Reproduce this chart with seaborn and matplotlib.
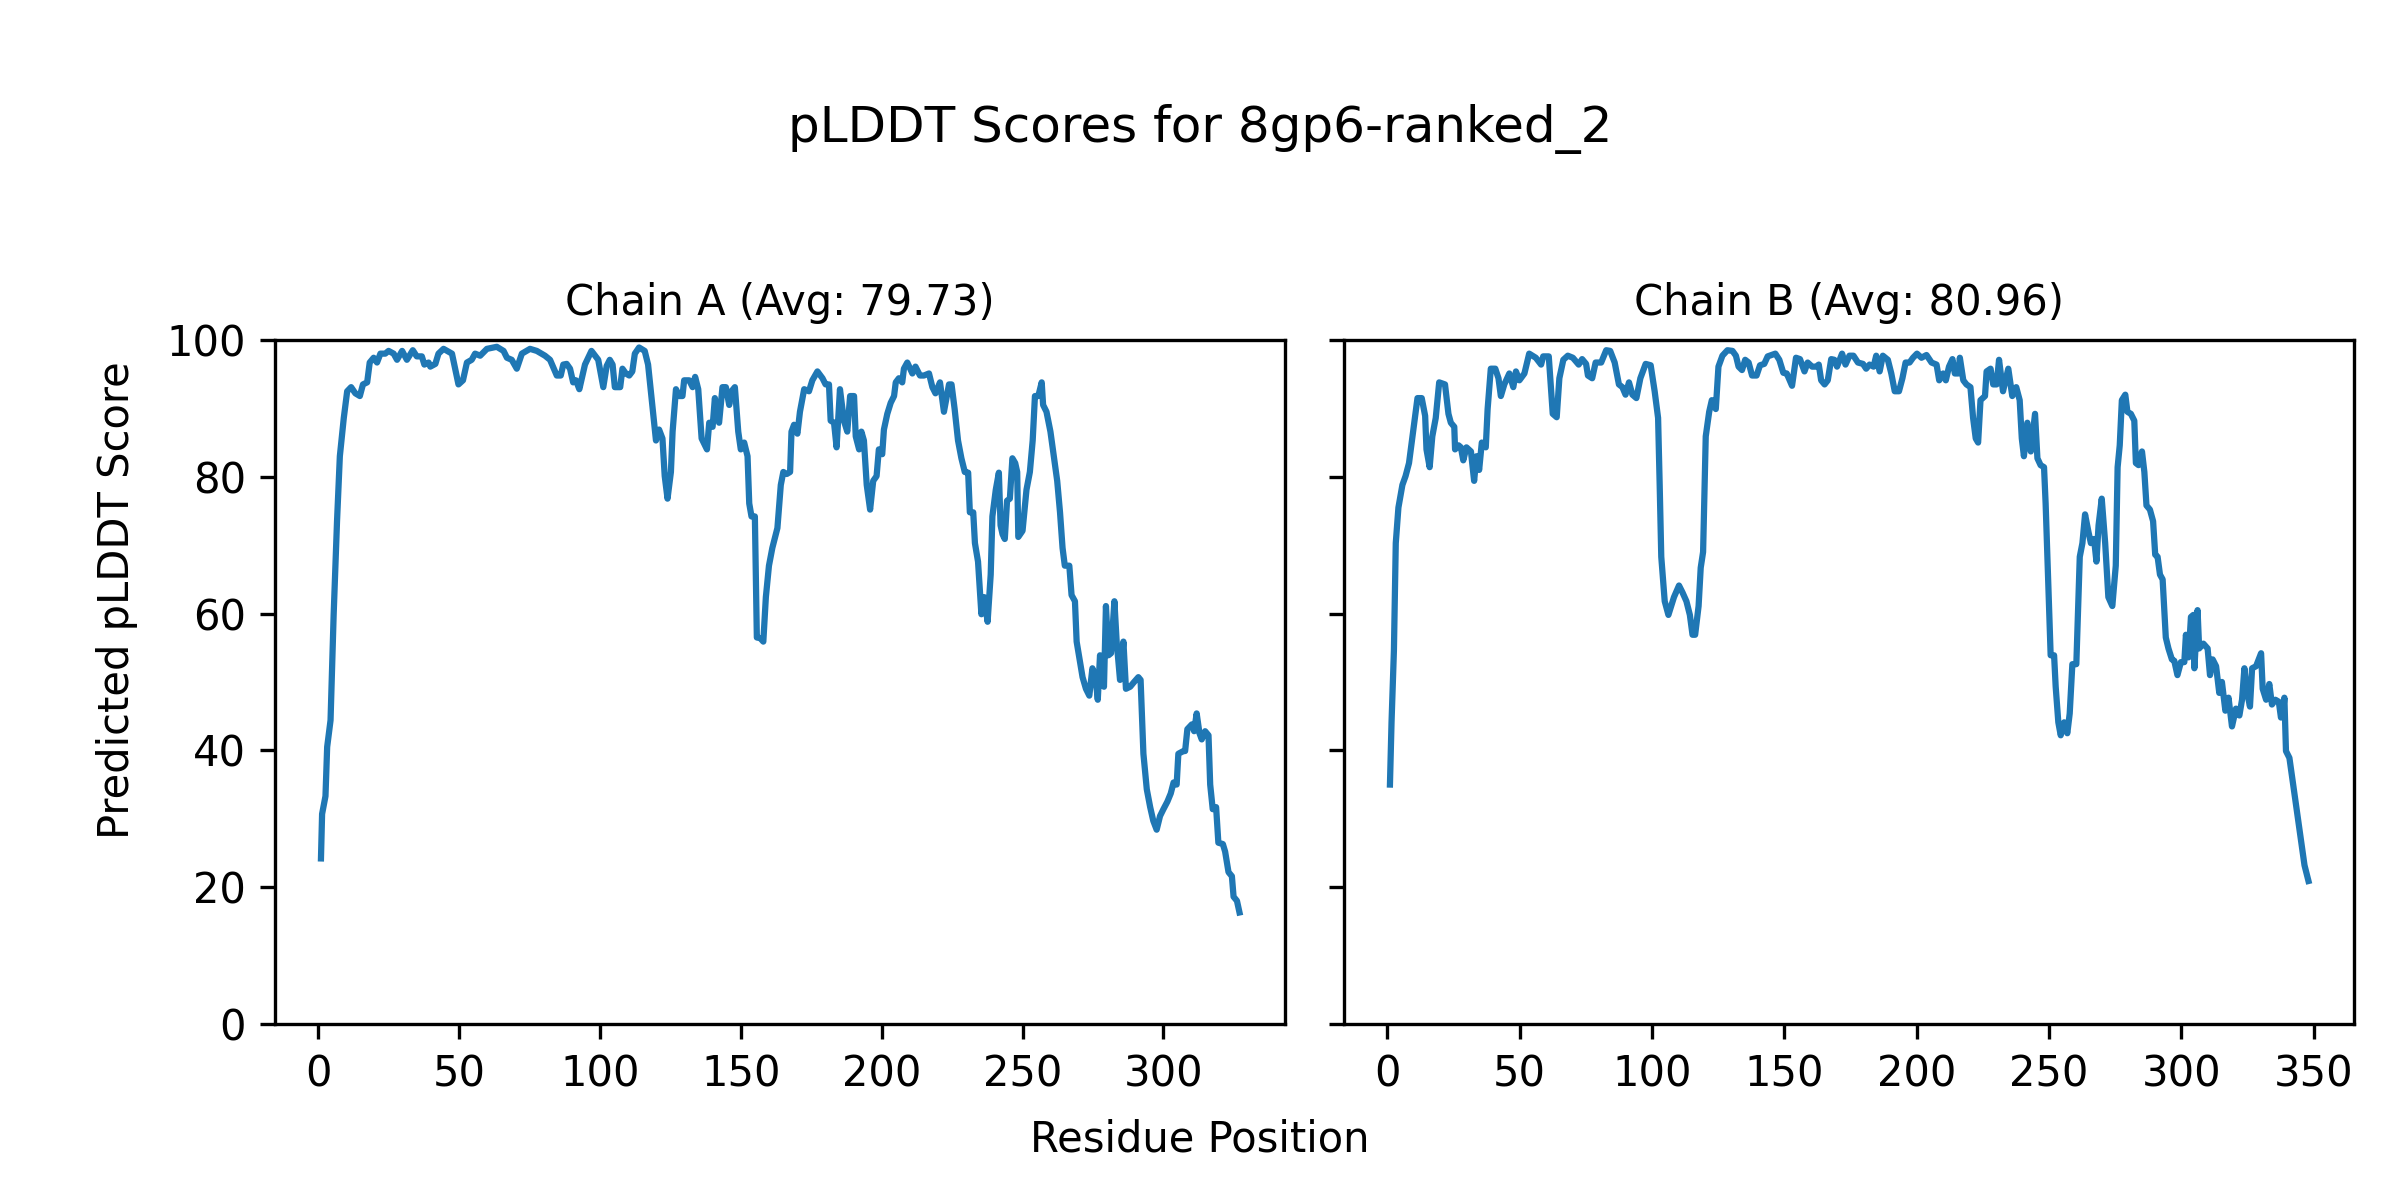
import matplotlib
matplotlib.use("Agg")
import matplotlib.pyplot as plt
import seaborn as sns
import pandas as pd

# ---------------- data ----------------
chain_a_res = [1, 1.4, 2.6, 3.2, 4.4, 5.5, 6.7, 7.7, 9.1, 10.3, 11.7, 13.2, 14.8, 15.9, 17.4, 18.3,
               19.7, 20.9, 22.1, 23.8, 25, 26.8, 28, 29.8, 31.5, 33.6, 35, 36.8, 37.7, 39.2, 39.8,
               41.6, 42.7, 44.5, 47.5, 49.8, 51.4, 52.8, 54.5, 55.7, 57.5, 59.9, 63.4, 65.8, 67,
               68.7, 70.5, 72.3, 75.2, 77.6, 80.5, 82.3, 84.7, 86.1, 87, 88.2, 89.4, 90.5, 91.5,
               92.7, 94.7, 97, 99.4, 101.2, 102.4, 103.5, 104.5, 105.3, 106.2,
               107.2, 108, 109.2, 110.4, 111.5, 112.4, 113.9, 115.9, 117.1, 118.6, 119.9, 121,
               122.2, 123, 124, 125.2, 125.8, 127, 128.1, 129.3, 129.9, 131.7, 132.9, 133.8, 134.9,
               136.1, 138, 138.8, 140, 140.8, 142.3, 143.5, 144.7, 145.9, 146.7, 147.9, 149.1, 150,
               151.2, 152.4, 153, 153.8, 155, 155.7, 156.9, 158, 158.9, 160, 161.2, 163, 164.2,
               165.1, 166.3, 167.5, 168, 168.9, 170.1, 171, 172.5, 174.2, 175.4, 177.2, 179, 180.1,
               181.3, 181.9, 183.1, 184, 185.2, 186.6, 187.8, 188.8, 190.2, 190.8, 192, 192.8,
               193.7, 194.7, 195.9, 197, 198.2, 199, 200.2, 200.8, 202, 203.2, 204.4, 205, 206.1,
               207.3, 207.9, 209.1, 210.9, 212, 213.6, 215, 216.8, 218, 219.1, 220.7, 222.1, 223.9,
               224.8, 225.9, 227.1, 228.3, 229.5, 230.7, 231.3, 232.5, 233.1, 234.2, 235.4, 236.4,
               237.6, 238.7, 239.3, 240.5, 241.6, 242.2, 242.9, 243.7, 244.5, 245.5, 246.4, 247.4,
               248.1, 248.5, 250, 251.4, 252.6, 253.6, 254.4, 255.6, 256.8, 257.3, 258.5, 259.9,
               261.1, 262.3, 263.3, 264.2, 265, 266.6, 267.4, 268.6, 269.2, 270.4, 271.3, 272.5,
               273.7, 274.8, 275.9, 276.7, 277.5, 278.9, 279.6, 280.5, 281.4, 282.6, 283.4, 284.6,
               285.8, 286.7, 288.2, 289.6, 291.1, 291.9, 292.9, 294.1, 295.3, 296.4, 297.6, 298.8,
               300, 301.4, 302.6, 303.6, 304.7, 305.3, 307.1, 307.7, 308.5, 310.1, 310.9, 311.8,
               312.8, 313.6, 314.8, 316, 316.6, 317.5, 318.7, 319.5, 321.1, 321.9, 323.1, 324.3,
               324.9, 326.1, 327]
chain_a_score = [24.2, 30.7, 33.3, 40.5, 44.4, 59.8, 73.5, 83, 88.6, 92.5, 93.1, 92.2, 91.8, 93.5,
                 93.8, 96.7, 97.4, 96.7, 98, 98, 98.4, 98, 97.1, 98.4, 97.1, 98.5, 97.6, 97.6, 96.4,
                 96.7, 96.1, 96.5, 98, 98.7, 98, 93.5, 94.1, 96.7, 97.1, 98, 97.7, 98.7, 99, 98.4,
                 97.4, 97.1, 95.8, 98, 98.7, 98.4, 97.7, 97.1, 94.8, 94.8, 96.4, 96.5, 95.8, 93.8,
                 94.1, 92.8, 96.4, 98.4, 97.1, 93.1, 96.2, 97.1, 96.4, 93.1, 93.1,
                 93.1, 95.8, 95.1, 94.8, 95.4, 98, 98.9, 98.4, 96.4, 90.5, 85.3, 86.9, 85.6, 80.1,
                 76.8, 80.7, 86.6, 92.8, 91.8, 91.8, 94.1, 94.1, 93.1, 94.6, 92.8, 85.6, 84, 87.9,
                 87.3, 91.5, 87.9, 93.1, 93.1, 90.5, 92.5, 93.1, 86.6, 84, 85, 83, 76.1, 74.2, 74.2,
                 56.5, 56.4, 55.9, 62.4, 67, 69.6, 72.5, 78.8, 80.7, 80.4, 80.7, 86.6, 87.6, 86.3,
                 89.5, 92.8, 92.5, 94.1, 95.4, 94.4, 93.5, 93.5, 88.2, 87.9, 84.3, 92.8, 88.2, 86.6,
                 91.8, 91.8, 85.9, 84, 86.6, 85.3, 78.8, 75.2, 79.4, 80.1, 84, 83.3, 86.9, 89.2,
                 90.8, 91.8, 93.8, 94.4, 93.8, 95.8, 96.7, 95.1, 96.1, 94.8, 94.8, 95.1, 93.1, 92.2,
                 93.8, 89.5, 93.5,
                 93.5, 89.9, 85.3, 82.7, 80.7, 80.6, 74.8, 74.8, 70.3, 67.6, 59.9, 62.4, 58.8, 65.7,
                 74.2, 78.1, 80.6, 72.9, 71.6, 70.9, 76.5, 76.8, 82.7, 82, 80.7, 71.2, 72.1, 78.1,
                 80.7, 85.3, 91.8, 91.8, 93.8, 90.5, 89.5, 86.6, 83, 79.4, 74.8, 69.6, 67, 67, 62.7,
                 61.8, 55.9, 52.9, 50.7, 49, 48, 52, 50.7, 47.4, 53.9, 49.3, 61.1, 53.9, 54.2, 61.8,
                 55.9, 50.3, 55.9, 49, 49.3, 50, 50.7, 50.3, 39.5, 34.3, 31.7, 29.7, 28.4, 30.4,
                 31.4, 32.5, 33.7, 35.3, 35, 39.5, 39.9, 39.9, 43.1, 43.8, 42.8, 45.4, 42.5, 41.6,
                 42.8, 42.2, 35, 31.4, 31.7, 26.5, 26.3, 25.2, 22.2, 21.6, 18.6, 18, 16.3]

chain_b_res = [1, 1.6, 2.5, 3.2, 4.2, 5.7, 6.9, 8.2, 9.5, 11.4, 13, 14.3, 14.8, 16, 17, 18.3, 19.6,
               21.8, 23.1, 24, 25.3, 25.6, 26.9, 27.8, 28.7, 29.9, 31.6, 32.8, 33.7, 34.7, 35.7,
               37.2, 37.9, 39.1, 40.8, 42, 42.9, 44.2, 46.1, 47.6, 48.6, 49.9, 51.8, 53.6, 56.1,
               58.1, 58.9, 61, 62.5, 64, 65, 66.5, 68.2, 70.1, 72.3, 73.6, 75.1, 75.8, 77.4, 78.7,
               80.8, 82.7, 84.2, 85.9, 87.5, 88.8, 90, 91.3, 92.6, 94.1, 95.6, 97.6, 99.5, 101,
               102.3, 102.9, 103.5, 104.8, 106.2,
               108.3, 110.2, 111.5, 113, 114.3, 115.3, 116.3, 117.6, 118.4, 119.3, 120.3, 121.6,
               122.6, 124.1, 125.1, 126.6, 128.5, 130.4, 131.7, 132.7, 134, 135.2, 136.5, 137.8,
               139.5, 140.8, 142.4, 143.7, 146.6, 148.1, 149.6, 150.9, 152.9, 154.4, 155.9, 157.6,
               158.8, 160.5, 162, 163, 163.9, 165.2, 166.4, 167.7, 168.9, 169.9, 171.8, 173.1,
               174.6, 176.1, 177.8, 179.7, 180.9, 182.2, 183.7, 184.7, 186, 187.2, 189.1, 190.4,
               191.7, 193.3, 194.6, 195.8, 197.3, 198.6, 200.1, 201.8, 203.7, 205.6, 207.5, 208.5,
               210, 211, 212.2, 213.5, 214.4, 215.7, 216.3, 217.6, 218.8, 220.3, 221.3, 222.3,
               223.2, 224.1, 225.8, 226.4, 227.9, 228.9, 230.2,
               231.1, 232.6, 234.6, 236.1, 237.6, 238.9, 239.7, 240.5, 241.8, 243.1, 244.7, 245.6,
               246.8, 248.1, 248.7, 250, 250.6, 251.9, 252.5, 253.5, 254.4, 255.7, 256.9, 257.8,
               258.8, 260.3, 261.1, 261.6, 262.6, 263.6, 264.9, 265.8, 267, 267.9, 268.7, 269.9,
               271.2, 272.4, 273.9, 275.2, 275.9, 276.7, 277.5, 278.8, 279.6, 280.9, 282.2, 282.8,
               283.8, 285.1, 286, 286.8, 288.1, 289.3, 290.1, 291, 291.9, 292.9, 294.1, 295.1,
               296.4, 297.3, 298.5, 299.8, 301.1, 301.7, 302.7, 303.6, 304.5, 304.9, 306.1, 306.7,
               308.3, 309.9, 310.8, 311.8, 313.1, 314.3, 315.3, 316.6, 317.8, 319.1, 320.6, 321.9,
               322.9, 323.8, 324.7, 325.9, 326.7, 328.2, 330.1, 330.7, 332, 333.2, 334.2, 335.5,
               336.8, 337.6, 338.3, 338.9, 339.5, 340.8, 342.7, 344.6, 346.5, 348]
chain_b_score = [35, 44.1, 54.6, 70.3, 75.5, 78.8, 80.1, 82, 85.9, 91.5, 91.5, 88.9, 84, 81.4, 85.9,
                 88.6, 93.8, 93.5, 89.2, 87.9, 87.3, 84, 84.6, 84.3, 82.4, 84.3, 83.7, 79.4, 83, 81,
                 85, 84.3, 89.9, 95.8, 95.8, 94.4, 91.8, 93.5, 95.1, 93.1, 95.4, 94.1, 95.1, 98,
                 97.4, 96.4, 97.6, 97.6, 89.2, 88.7, 94.4, 97.1, 97.7, 97.4, 96.4, 97.2, 96.5, 94.8,
                 94.4, 96.7, 96.7, 98.5, 98.4, 96.7, 93.5, 93.1, 92, 93.8, 92, 91.5, 94.4, 96.5,
                 96.3, 92.5, 88.6, 78.8, 68.3, 61.8, 59.8,
                 62.4, 64.1, 63.1, 61.8, 59.8, 56.9, 56.9, 61.1, 66.7, 69, 85.9, 89.5, 91.2, 89.9,
                 96.1, 97.7, 98.5, 98.4, 97.7, 96.1, 95.6, 97.1, 96.7, 94.8, 94.8, 96.3, 96.5, 97.6,
                 98, 97.1, 95.2, 95.1, 93.3, 97.4, 97.2, 95.4, 96.7, 96.1, 96.1, 96.4, 94.1, 93.5,
                 94.1, 97.2, 97.1, 96.1, 98, 96.4, 97.7, 97.7, 96.7, 96.5, 95.8, 96.4, 96.1, 97.7,
                 95.4, 97.7, 97.1, 95.1, 92.5, 92.5, 94.4, 96.7, 96.7, 97.4, 98, 97.4, 97.8, 96.7,
                 96.4, 94.1, 95.1, 94.1, 96.1, 97.2, 95.1, 95.1, 97.4, 94.1, 93.5, 93.1, 88.6, 85.6,
                 85, 91.2, 91.8, 95.4, 95.8, 93.5, 93.5,
                 97.1, 92.5, 95.8, 91.8, 93.1, 91.2, 85.6, 83, 87.9, 83.7, 89.2, 82.7, 81.7, 81.4,
                 76.1, 61.1, 53.9, 53.9, 49.3, 44.1, 42.2, 44.1, 42.5, 45.4, 52.6, 52.6, 62.4, 68.3,
                 70.3, 74.5, 71.9, 70.3, 70.9, 67.6, 72.9, 76.8, 70.3, 62.4, 61.1, 67, 81.4, 84.6,
                 91.2, 92, 89.5, 89.2, 88.2, 82, 81.7, 83.7, 80.7, 75.8, 75.2, 73.5, 68.6, 68.3,
                 65.7, 65, 56.5, 54.9, 53.3, 53.1, 51, 52.9, 52.9, 56.9, 53.6, 59.5, 59.8, 52, 60.5,
                 54.9, 55.6, 54.9, 51, 53.3, 52.3, 48.4, 50, 45.8, 47.7, 43.5, 46.1, 45.1, 47.4, 52,
                 48.7, 46.4, 52, 52.3, 54.2, 49, 47.4, 49.7, 46.7, 47.4, 47.1, 44.8, 45.1, 47.7,
                 39.9, 38.9, 33.7, 28.4, 23.2, 20.9]

chains = ["A", "B"]
averages = [79.73, 80.96]
suptitle_text = "pLDDT Scores for 8gp6-ranked_2"
x_label = "Residue Position"
y_label = "Predicted pLDDT Score"
y_ticks = [0, 20, 40, 60, 80, 100]

# ---------------- plot ----------------
plt.rcParams["font.family"] = ["DejaVu Sans"]
fig, axes = plt.subplots(1, 2, figsize=(8, 4), dpi=300, sharey=True)
fig.subplots_adjust(left=0.1146, right=0.981, bottom=0.1467, top=0.7167, wspace=0.058)

data = [(chain_a_res, chain_a_score), (chain_b_res, chain_b_score)]
for ax, chain, avg, (xs, ys) in zip(axes, chains, averages, data):
    df = pd.DataFrame({"res": xs, "score": ys})
    sns.lineplot(data=df, x="res", y="score", ax=ax, color="#1f77b4",
                 linewidth=1.5, estimator=None, sort=False)
    ax.set_title(f"Chain {chain} (Avg: {avg:.2f})", fontsize=10)
    ax.set_xlabel("")
    ax.set_ylabel("")
    ax.set_ylim(0, 100)
    ax.set_yticks(y_ticks)
    n = max(xs)
    ax.set_xlim(1 - 0.05 * (n - 1), n + 0.05 * (n - 1))

fig.suptitle(suptitle_text, fontsize=12, y=0.8817, va="baseline")
fig.text(0.5, 0.04, x_label, ha="center", fontsize=10)
fig.text(0.04, 0.5, y_label, va="center", rotation="vertical", fontsize=10)

fig.savefig("out.png", dpi=300)
